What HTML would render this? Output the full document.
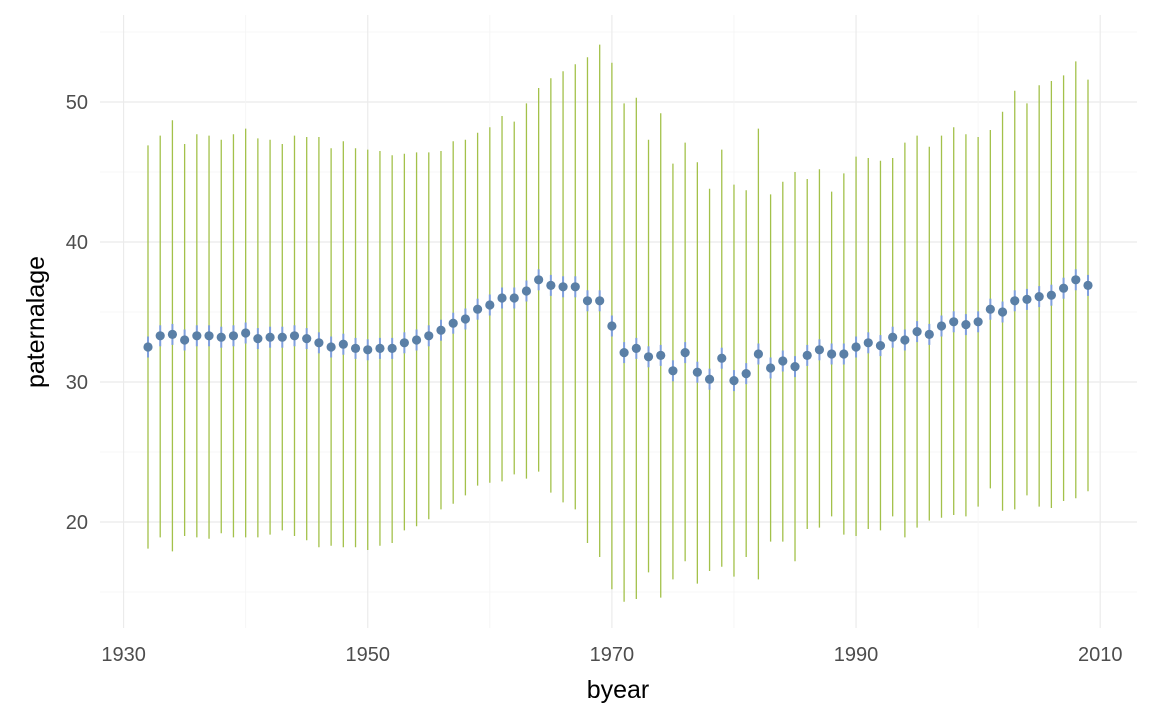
<!DOCTYPE html>
<html><head><meta charset="utf-8"><style>
body{margin:0;background:#fff;font-family:"Liberation Sans",sans-serif}
svg text{font-family:"Liberation Sans",sans-serif}
</style></head><body>
<svg id="chart" width="1152" height="720">
<g id="grid"></g>
<g id="marks"></g>
<g id="axes"></g>
<text x="618" y="698" font-size="25" text-anchor="middle" fill="#000">byear</text>
<text transform="translate(44,322) rotate(-90)" font-size="25" text-anchor="middle" fill="#000">paternalage</text>
</svg>
<script>
const years=[];for(let y=1932;y<=2009;y++)years.push(y);
const means=[32.5,33.3,33.4,33.0,33.3,33.3,33.2,33.3,33.5,33.1,33.2,33.2,33.3,33.1,32.8,32.5,32.7,32.4,32.3,32.4,32.4,32.8,33.0,33.3,33.7,34.2,34.5,35.2,35.5,36.0,36.0,36.5,37.3,36.9,36.8,36.8,35.8,35.8,34.0,32.1,32.4,31.8,31.9,30.8,32.1,30.7,30.2,31.7,30.1,30.6,32.0,31.0,31.5,31.1,31.9,32.3,32.0,32.0,32.5,32.8,32.6,33.2,33.0,33.6,33.4,34.0,34.3,34.1,34.3,35.2,35.0,35.8,35.9,36.1,36.2,36.7,37.3,36.9];
const highs=[46.9,47.6,48.7,47.0,47.7,47.6,47.3,47.7,48.1,47.4,47.3,47.0,47.6,47.5,47.5,46.7,47.2,46.7,46.6,46.5,46.2,46.3,46.4,46.4,46.5,47.2,47.3,47.8,48.2,49.0,48.6,49.9,51.0,51.7,52.2,52.7,53.2,54.1,52.8,49.9,50.3,47.3,49.2,45.6,47.1,45.7,43.8,46.6,44.1,43.7,48.1,43.4,44.3,45.0,44.5,45.2,43.6,44.9,46.1,46.0,45.8,46.0,47.1,47.6,46.8,47.6,48.2,47.7,47.5,48.0,49.3,50.8,49.9,51.2,51.5,51.9,52.9,51.6];
const lows=[18.1,18.9,17.9,19.0,18.9,18.8,19.2,18.9,18.9,18.9,19.1,19.4,19.0,18.7,18.2,18.3,18.2,18.2,18.0,18.3,18.5,19.4,19.7,20.2,20.9,21.3,21.9,22.6,22.8,22.9,23.4,23.1,23.6,22.1,21.4,20.9,18.5,17.5,15.2,14.3,14.5,16.4,14.6,15.9,17.2,15.6,16.5,16.8,16.1,17.5,15.9,18.6,18.6,17.2,19.5,19.6,20.4,19.1,19.0,19.5,19.4,20.4,18.9,19.6,20.1,20.3,20.5,20.4,21.1,22.4,20.8,20.9,21.9,21.1,21.0,21.5,21.7,22.2];
const xTicks=[1930,1950,1970,1990,2010];
const yTicks=[20,30,40,50];
const NS="http://www.w3.org/2000/svg";
const X=v=>148+(v-1932)*(940/77);
const Y=v=>102+(50-v)*14;
function el(t,a,p){const e=document.createElementNS(NS,t);for(const k in a)e.setAttribute(k,a[k]);document.getElementById(p).appendChild(e);return e;}
const L=100,R=1137,T=15,B=628;
for(let v=15;v<=55;v+=5){const major=v%10===0;
 const g=el('line',{x1:L,x2:R,y1:Y(v),y2:Y(v),stroke:major?'#ebebeb':'#f4f4f4','stroke-width':major?1.2:0.8},'grid');
 
 }
for(let v=1930;v<=2010;v+=10){const major=v%20===10;
 const g=el('line',{x1:X(v),x2:X(v),y1:T,y2:B,stroke:major?'#ebebeb':'#f4f4f4','stroke-width':major?1.2:0.8},'grid');
 
 }
yTicks.forEach(v=>{const t=el('text',{x:88,y:Y(v)+7,'font-size':20,'text-anchor':'end',fill:'#4d4d4d'},'axes');t.textContent=v;
 
 });
xTicks.forEach(v=>{const t=el('text',{x:X(v),y:661,'font-size':20,'text-anchor':'middle',fill:'#4d4d4d'},'axes');t.textContent=v;
 
 });
years.forEach((yr,i)=>{
 const r=el('line',{x1:X(yr),x2:X(yr),y1:Y(highs[i]),y2:Y(lows[i]),stroke:'#a3c14a','stroke-width':1.3},'marks');
 
 
 const c=el('line',{x1:X(yr),x2:X(yr),y1:Y(means[i]+0.75),y2:Y(means[i]-0.75),stroke:'#7f9fdc','stroke-width':2},'marks');
 
 
 const p=el('circle',{cx:X(yr),cy:Y(means[i]),r:4.6,fill:'#5a7fa6'},'marks');
 
 
});
</script>
</body></html>
